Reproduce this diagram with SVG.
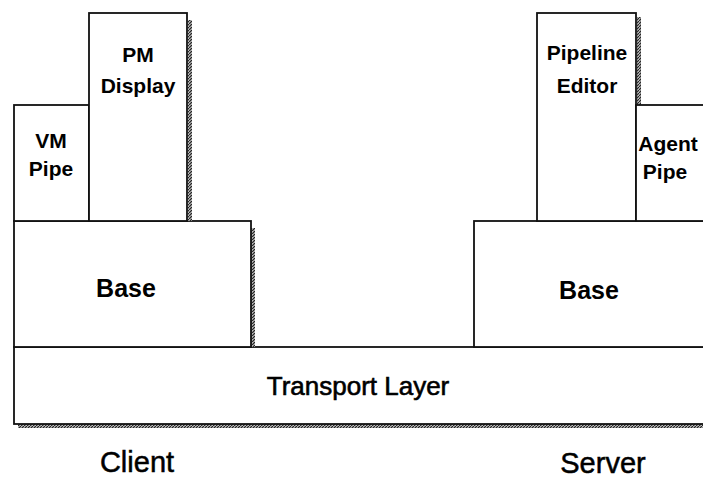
<svg xmlns="http://www.w3.org/2000/svg" width="703" height="479" viewBox="0 0 703 479">
  <defs>
    <pattern id="hatch" width="3" height="3" patternUnits="userSpaceOnUse">
      <rect width="3" height="3" fill="#bbb"/>
      <path d="M0,3 L3,0" stroke="#222" stroke-width="1.2"/>
    </pattern>
    <style>
      .box { fill: #fff; stroke: #111; stroke-width: 1.8; }
      .shadow { fill: url(#hatch); }
      .lbl { font-family: "Liberation Sans", Arial, sans-serif; font-weight: bold; font-size: 21px; text-anchor: middle; fill: #000; }
      .base { font-family: "Liberation Sans", Arial, sans-serif; font-weight: bold; font-size: 25px; text-anchor: middle; fill: #000; }
      .big { font-family: "Liberation Sans", Arial, sans-serif; font-size: 26px; text-anchor: middle; fill: #000; stroke: #000; stroke-width: 0.6; }
      .cap { font-family: "Liberation Sans", Arial, sans-serif; font-size: 29px; text-anchor: middle; fill: #000; stroke: #000; stroke-width: 0.5; }
    </style>
  </defs>
  <rect width="703" height="479" fill="#fff"/>

  <g id="transport">
    <rect class="shadow" x="18" y="424" width="690" height="4"/>
    <rect class="box" x="14" y="347" width="700" height="77"/>
    <text class="big" x="358" y="395">Transport Layer</text>
  </g>

  <g id="client-base">
    <rect class="shadow" x="251" y="228" width="4" height="119"/>
    <rect class="box" x="14" y="221" width="237" height="126"/>
    <text class="base" x="126" y="297">Base</text>
  </g>

  <g id="vm-pipe">
    <rect class="box" x="14" y="105" width="75" height="116"/>
    <text class="lbl" x="51" y="148">VM</text>
    <text class="lbl" x="51" y="176">Pipe</text>
  </g>

  <g id="pm-display">
    <rect class="shadow" x="188" y="20" width="4" height="201"/>
    <rect class="box" x="89" y="13" width="98" height="208"/>
    <text class="lbl" x="138" y="62">PM</text>
    <text class="lbl" x="138" y="93">Display</text>
  </g>

  <g id="server-base">
    <rect class="box" x="474" y="221" width="240" height="126"/>
    <text class="base" x="589" y="299">Base</text>
  </g>

  <g id="pipeline-editor">
    <rect class="shadow" x="637" y="17" width="4" height="88"/>
    <rect class="box" x="537" y="13" width="99" height="208"/>
    <text class="lbl" x="587" y="60">Pipeline</text>
    <text class="lbl" x="587" y="93">Editor</text>
  </g>

  <g id="agent-pipe">
    <rect class="box" x="636" y="105" width="78" height="116"/>
    <text class="lbl" x="668" y="151">Agent</text>
    <text class="lbl" x="665" y="179">Pipe</text>
  </g>

  <g id="connectors"></g>

  <text class="cap" x="137" y="472">Client</text>
  <text class="cap" x="603" y="473">Server</text>
</svg>
